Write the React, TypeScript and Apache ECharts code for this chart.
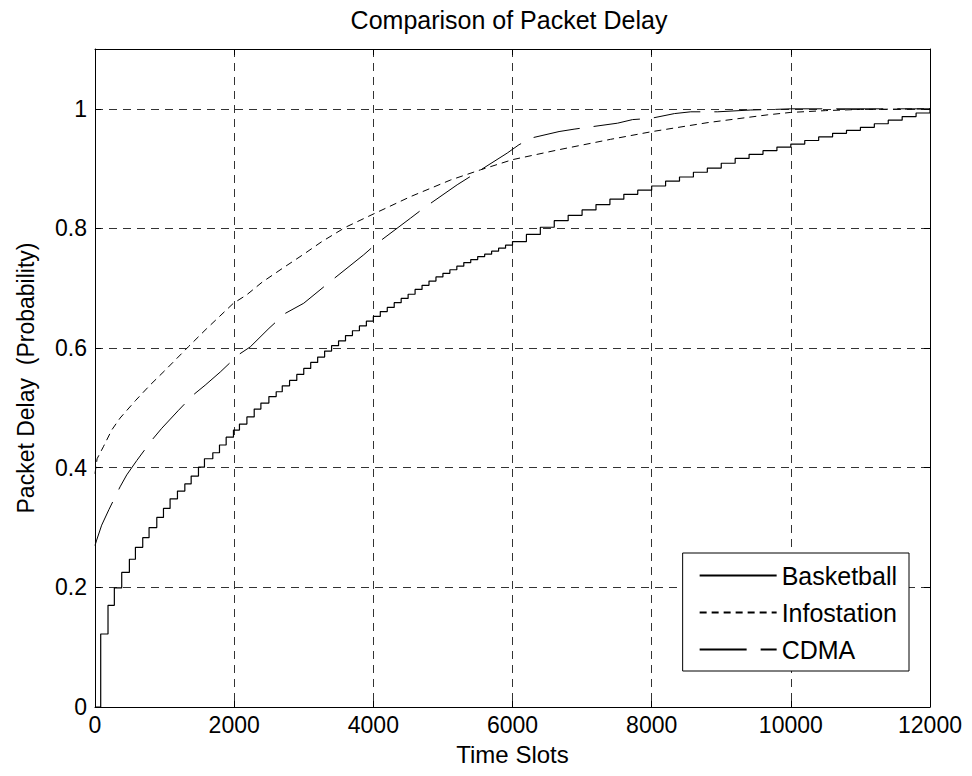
import React, { useEffect, useRef } from "react";
import * as echarts from "echarts";

// ---- Data ----
const xTicks = [0, 2000, 4000, 6000, 8000, 10000, 12000];

const basketballSlots = [
  0, 82, 187, 278, 384, 494, 581, 686, 777, 888, 984, 1079, 1185, 1291, 1382, 1487, 1573, 1693, 1789, 1885,
  1990, 2076, 2183, 2288, 2384, 2499, 2604, 2691, 2796, 2900, 3000, 3100, 3200, 3300, 3400, 3500, 3600, 3700,
  3800, 3900, 4000, 4100, 4200, 4300, 4400, 4500, 4600, 4700, 4800, 4900, 5000, 5100, 5200, 5300, 5400, 5500,
  5600, 5700, 5800, 5900, 6000, 6200, 6400, 6600, 6800, 7000, 7200, 7400, 7600, 7800, 8000, 8200, 8400, 8600,
  8800, 9000, 9200, 9400, 9600, 9800, 10000, 10200, 10400, 10600, 10800, 11000, 11200, 11400, 11600, 11800, 12000,
];
const basketballProb = [
  0, 0.122, 0.17, 0.199, 0.225, 0.247, 0.267, 0.283, 0.3, 0.317, 0.332, 0.348, 0.361, 0.373, 0.386, 0.401, 0.415,
  0.425, 0.438, 0.451, 0.463, 0.473, 0.485, 0.498, 0.508, 0.519, 0.527, 0.537, 0.546, 0.556, 0.566, 0.576, 0.585,
  0.595, 0.604, 0.612, 0.621, 0.629, 0.637, 0.645, 0.653, 0.661, 0.668, 0.676, 0.683, 0.69, 0.698, 0.705, 0.712,
  0.719, 0.725, 0.731, 0.737, 0.743, 0.748, 0.753, 0.757, 0.762, 0.767, 0.772, 0.778, 0.79, 0.802, 0.813, 0.822,
  0.831, 0.84, 0.849, 0.857, 0.864, 0.871, 0.879, 0.886, 0.894, 0.901, 0.909, 0.917, 0.924, 0.93, 0.936, 0.941,
  0.947, 0.953, 0.959, 0.964, 0.969, 0.975, 0.981, 0.987, 0.993, 1.0,
];

const infostationSlots = [
  0, 30, 120, 240, 360, 580, 790, 1000, 1340, 1600, 1990, 2180, 2400, 2690, 3000, 3260, 3600, 3980, 4530, 5110,
  5540, 6000, 6640, 7410, 8010, 8810, 9670, 10000, 10500, 11000, 12000,
];
const infostationProb = [
  0.39, 0.415, 0.435, 0.463, 0.483, 0.512, 0.538, 0.562, 0.602, 0.632, 0.675, 0.689, 0.71, 0.733, 0.757, 0.778,
  0.802, 0.823, 0.853, 0.881, 0.898, 0.915, 0.931, 0.949, 0.962, 0.977, 0.99, 0.994, 0.997, 0.999, 1.0,
];

const cdmaSlots = [
  0, 24, 96, 200, 360, 456, 600, 816, 960, 1200, 1415, 1583, 1800, 2063, 2231, 2500, 2734, 3000, 3400, 3862, 4029,
  4532, 4724, 5205, 5396, 5924, 6093, 6300, 6669, 6885, 7510, 7726, 7986, 8326, 8562, 8950, 9424, 9763, 10000, 12000,
];
const cdmaProb = [
  0.27, 0.279, 0.304, 0.33, 0.368, 0.388, 0.412, 0.446, 0.466, 0.496, 0.522, 0.538, 0.56, 0.589, 0.602, 0.633,
  0.658, 0.675, 0.713, 0.756, 0.773, 0.817, 0.834, 0.873, 0.887, 0.926, 0.94, 0.952, 0.962, 0.966, 0.976, 0.982,
  0.984, 0.992, 0.995, 0.995, 0.998, 0.999, 1.0, 1.0,
];

const pairs = (xs: number[], ys: number[]) => xs.map((x, i) => [x, ys[i]]);

const FONT = "'Liberation Sans', Arial, Helvetica, sans-serif";

export default function App() {
  const ref = useRef<HTMLDivElement>(null);

  useEffect(() => {
    if (!ref.current) return;
    const chart = echarts.init(ref.current, undefined, { renderer: "svg" });
    const gridLine = { show: true, lineStyle: { color: "#333", width: 1, type: [8, 6] as any } };
    chart.setOption({
      animation: false,
      backgroundColor: "#fff",
      textStyle: { fontFamily: FONT, color: "#000" },
      title: {
        text: "Comparison of Packet Delay",
        left: 504,
        top: 2,
        textAlign: "center",
        textStyle: { fontFamily: FONT, fontSize: 25, fontWeight: "normal", color: "#000" },
      },
      grid: { left: 95, right: 42, top: 49, bottom: 69, containLabel: false },
      legend: {
        orient: "vertical",
        right: 63,
        top: 553,
        padding: [10, 12, 9, 16],
        itemWidth: 77,
        itemHeight: 2,
        itemGap: 12,
        borderColor: "#000",
        borderWidth: 1,
        backgroundColor: "#fff",
        itemStyle: { opacity: 0 },
        textStyle: { fontFamily: FONT, fontSize: 25, color: "#000", lineHeight: 24 },
        data: ["Basketball", "Infostation", "CDMA"],
      },
      xAxis: [
        {
          type: "value",
          min: xTicks[0],
          max: xTicks[xTicks.length - 1],
          interval: 2000,
          name: "Time Slots",
          nameLocation: "middle",
          nameGap: 35,
          nameTextStyle: { fontFamily: FONT, fontSize: 24, color: "#000" },
          axisLine: { show: true, onZero: false, lineStyle: { color: "#000", width: 1 } },
          axisTick: { show: true, inside: true, length: 6, lineStyle: { color: "#000" } },
          axisLabel: {
            fontFamily: FONT,
            fontSize: 23,
            color: "#000",
            margin: 6,
            formatter: (v: number) => String(v),
          },
          splitLine: gridLine,
        },
        {
          type: "value",
          position: "top",
          min: xTicks[0],
          max: xTicks[xTicks.length - 1],
          interval: 2000,
          axisLine: { show: true, onZero: false, lineStyle: { color: "#000", width: 1 } },
          axisTick: { show: true, inside: true, length: 6, lineStyle: { color: "#000" } },
          axisLabel: { show: false },
          splitLine: { show: false },
        },
      ],
      yAxis: [
        {
          type: "value",
          min: 0,
          max: 1.1,
          interval: 0.2,
          name: "Packet Delay  (Probability)",
          nameLocation: "middle",
          nameGap: 58,
          nameTextStyle: { fontFamily: FONT, fontSize: 23, color: "#000", padding: [0, 0, 0, 0] },
          axisLine: { show: true, onZero: false, lineStyle: { color: "#000", width: 1 } },
          axisTick: { show: true, inside: true, length: 6, lineStyle: { color: "#000" } },
          axisLabel: { fontFamily: FONT, fontSize: 23, color: "#000", margin: 8, showMaxLabel: false },
          splitLine: gridLine,
        },
        {
          type: "value",
          position: "right",
          min: 0,
          max: 1.1,
          interval: 0.2,
          axisLine: { show: true, onZero: false, lineStyle: { color: "#000", width: 1 } },
          axisTick: { show: true, inside: true, length: 6, lineStyle: { color: "#000" } },
          axisLabel: { show: false },
          splitLine: { show: false },
        },
      ],
      series: [
        {
          name: "Basketball",
          type: "line",
          step: "end",
          symbol: "none",
          data: pairs(basketballSlots, basketballProb),
          lineStyle: { color: "#000", width: 1.2, type: "solid" },
          itemStyle: { color: "#000" },
        },
        {
          name: "Infostation",
          type: "line",
          symbol: "none",
          data: pairs(infostationSlots, infostationProb),
          lineStyle: { color: "#000", width: 1, type: [7, 5] as any },
          itemStyle: { color: "#000" },
        },
        {
          name: "CDMA",
          type: "line",
          symbol: "none",
          data: pairs(cdmaSlots, cdmaProb),
          lineStyle: { color: "#000", width: 1, type: [47, 14] as any },
          itemStyle: { color: "#000" },
        },
      ],
    });
    return () => chart.dispose();
  }, []);

  return <div ref={ref} style={{ width: 972, height: 776, position: "absolute", left: 0, top: 0 }} />;
}
